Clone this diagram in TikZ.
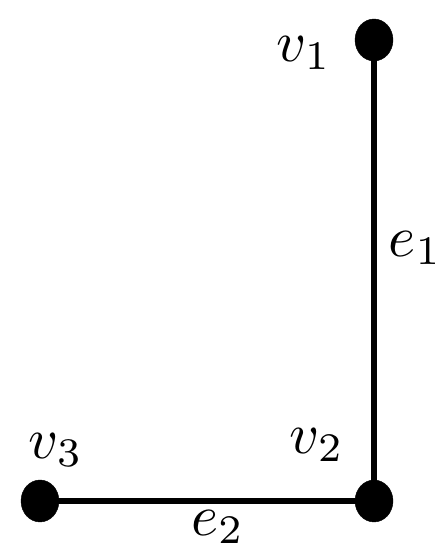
\documentclass[tikz,border=0pt]{standalone}
\usepackage{graphicx}
\usetikzlibrary{shapes.geometric}
\newcommand{\biglbl}[1]{\scalebox{5.8}{$#1$}}
\begin{document}
\begin{tikzpicture}[x=1pt,y=1pt,
  vert/.style={draw=black,fill=black,ellipse,minimum width=38pt,minimum height=42pt,inner sep=0pt},
  edge/.style={line width=6.5pt},
  lbl/.style={inner sep=0pt}]
\useasboundingbox (0,0) rectangle (444,553);
\node[vert] (v1) at (374,513) {};
\node[vert] (v2) at (374,52) {};
\node[vert] (v3) at (40,52) {};
\draw[edge] (v1.center) -- (v2.center);
\draw[edge] (v3.center) -- (v2.center);
\node[lbl] (l1) at (304,500) {\biglbl{v_1}};
\node[lbl] (l2) at (317,108) {\biglbl{v_2}};
\node[lbl] (l3) at (56,103) {\biglbl{v_3}};
\node[lbl,anchor=east] (le1) at (442,305) {\biglbl{e_1}};
\node[lbl] (le2) at (218,26) {\biglbl{e_2}};
\end{tikzpicture}
\end{document}
